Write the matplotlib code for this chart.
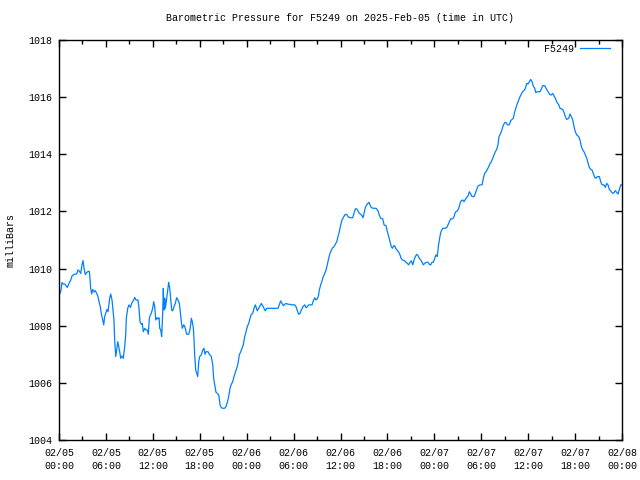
import matplotlib
matplotlib.use("Agg")
import matplotlib.pyplot as plt
import matplotlib.dates as mdates
import numpy as np
from datetime import datetime, timedelta

plt.rcParams['font.family'] = ['Liberation Mono', 'DejaVu Sans Mono']

station = "F5249"
title = "Barometric Pressure for F5249 on 2025-Feb-05 (time in UTC)"
ylabel = "milliBars"
start = datetime(2025, 2, 5, 0, 0)

# hours since 2025-02-05 00:00 UTC
hours = [
    0.13, 0.26, 0.38, 0.51, 0.73, 1.06, 1.24, 1.50, 1.66, 1.88, 2.08, 2.26, 2.43, 2.60, 2.78, 2.94,
    3.07, 3.20, 3.36, 3.54, 3.71, 3.88, 3.96, 4.05, 4.18, 4.31, 4.48, 4.64, 4.82, 4.99, 5.12, 5.28,
    5.41, 5.59, 5.72, 5.84, 5.97, 6.14, 6.27, 6.48, 6.61, 6.78, 6.91, 7.03, 7.12, 7.25, 7.38, 7.51,
    7.64, 7.76, 7.89, 8.06, 8.22, 8.40, 8.53, 8.61, 8.79, 8.95, 9.12, 9.34, 9.55, 9.68, 9.85, 10.10,
    10.23, 10.36, 10.53, 10.65, 10.78, 10.96, 11.13, 11.29, 11.42, 11.55, 11.68, 11.80, 11.98, 12.11,
    12.24, 12.37, 12.53, 12.66, 12.79, 12.88, 13.01, 13.13, 13.26, 13.34, 13.43, 13.52, 13.60, 13.72,
    13.85, 13.94, 14.03, 14.16, 14.28, 14.41, 14.54, 14.71, 14.87, 15.05, 15.22, 15.39, 15.51, 15.64,
    15.77, 15.95, 16.08, 16.20, 16.33, 16.59, 16.72, 16.84, 16.92, 17.05, 17.18, 17.26, 17.35, 17.48,
    17.61, 17.74, 17.87, 17.99, 18.20, 18.38, 18.54, 18.67, 18.80, 19.06, 19.22, 19.48, 19.66, 19.78,
    19.91, 20.08, 20.25, 20.42, 20.55,
    20.59, 20.76, 20.94, 21.19, 21.36, 21.53, 21.70, 21.87, 22.04, 22.21, 22.38, 22.55, 22.73, 22.89,
    23.06, 23.24, 23.40, 23.57, 23.75, 23.92, 24.08, 24.26, 24.43, 24.59, 24.77, 24.94, 25.11, 25.28,
    25.36, 25.54, 25.71, 25.87, 26.05, 26.22, 26.38, 26.56, 28.01, 28.17, 28.35, 28.52, 28.69, 28.87,
    29.03, 29.29, 29.54, 29.71, 30.14, 30.31, 30.48, 30.66,
    30.82, 30.99, 31.21, 31.42, 31.59, 31.76, 31.93, 32.36, 32.52, 32.70, 32.87, 33.04, 33.21, 33.29,
    33.47, 33.64, 33.80, 33.98, 34.15, 34.31, 34.49, 34.66, 34.83, 35.00, 35.17, 35.34, 35.52, 35.68,
    35.85, 36.03, 36.19, 36.36, 36.54, 36.79, 36.96, 37.18, 37.56, 37.73, 37.90, 38.07, 38.24, 38.41,
    38.59, 38.75, 38.88, 39.01, 39.17, 39.35, 39.52, 39.65, 39.78, 39.94, 40.20, 40.55, 40.80,
    40.93, 41.14, 41.40, 41.57, 41.82, 41.99, 42.17, 42.33, 42.50, 42.63, 42.81, 42.93, 43.10, 43.27,
    43.45, 43.61, 43.78, 43.96, 44.21, 44.38, 44.55, 44.72, 44.89, 45.06, 45.24, 45.40, 45.57, 45.75,
    45.91, 46.08, 46.26, 46.43, 46.59, 46.77, 46.94, 47.19, 47.36, 47.54, 47.70, 47.87, 48.05, 48.21,
    48.38, 48.51, 48.64, 48.77, 48.89, 49.07, 49.33, 49.58, 49.75, 49.92, 50.10, 50.35, 50.52, 50.68,
    50.94, 51.12, 51.25,
    51.28, 51.45, 51.63, 51.80, 51.96, 52.14, 52.31, 52.47, 52.65, 52.82, 53.08, 53.24, 53.42, 53.59,
    53.84, 54.10, 54.27, 54.44, 54.61, 54.78, 54.96, 55.12, 55.29, 55.47, 55.63, 55.80, 55.98, 56.14,
    56.27, 56.44, 56.62, 56.78, 57.00, 57.17, 57.34, 57.59, 57.77, 57.94, 58.10, 58.28, 58.45, 58.62,
    58.79, 58.96, 59.13, 59.30, 59.47, 59.64, 59.81, 59.98, 60.15, 60.33, 60.49, 60.66, 60.84, 60.97,
    61.17, 61.52,
    61.73, 61.86, 62.12, 62.28, 62.54, 62.80, 62.96, 63.14, 63.31, 63.47, 63.65, 63.91, 64.07, 64.42,
    64.59, 64.75, 64.93, 65.19, 65.35, 65.52, 65.70, 65.86, 66.03, 66.21, 66.47, 66.63, 66.80, 66.98,
    67.14, 67.31, 67.49, 67.65, 67.82, 68.00, 68.17, 68.33, 68.51, 68.68, 68.84, 69.10, 69.28, 69.45,
    69.70, 69.87, 70.05, 70.21, 70.38, 70.64, 70.82, 70.98, 71.15, 71.33, 71.49, 71.66, 71.84, 71.92,
]

pressure = [
    1009.13, 1009.25, 1009.51, 1009.46, 1009.46, 1009.34, 1009.46, 1009.60, 1009.74, 1009.79, 1009.81, 1009.81, 1009.95, 1009.91, 1009.83, 1010.13,
    1010.28, 1010.01, 1009.79, 1009.86, 1009.90, 1009.90, 1009.66, 1009.31, 1009.11, 1009.27, 1009.18, 1009.23, 1009.13, 1009.02, 1008.84, 1008.67,
    1008.43, 1008.20, 1008.03, 1008.32, 1008.43, 1008.57, 1008.49, 1008.96, 1009.11, 1008.90, 1008.55, 1008.20, 1007.50, 1006.92, 1007.15, 1007.44,
    1007.27, 1007.09, 1006.86, 1006.94, 1006.86, 1007.27, 1007.68, 1008.26, 1008.61, 1008.73, 1008.64, 1008.81, 1008.90, 1008.99, 1008.90, 1008.90,
    1008.61, 1008.14, 1008.05, 1008.08, 1007.79, 1007.91, 1007.85, 1007.85, 1007.70, 1008.26, 1008.38, 1008.43, 1008.61, 1008.84,
    1008.67, 1008.20, 1008.28, 1008.24, 1008.28, 1007.91, 1007.85, 1007.62, 1008.43, 1009.31, 1008.55, 1008.96, 1008.61, 1008.84,
    1009.13, 1009.31, 1009.52, 1009.31, 1008.96, 1008.55, 1008.52, 1008.67, 1008.78, 1008.98, 1008.90, 1008.78, 1008.49, 1008.14,
    1007.91, 1008.03, 1007.97, 1007.85, 1007.70, 1007.70, 1007.82, 1008.03, 1008.26, 1008.14, 1007.91, 1007.56, 1006.98, 1006.45,
    1006.33, 1006.22, 1006.74, 1006.92, 1006.98, 1007.15, 1007.21, 1007.00, 1007.09, 1007.09, 1007.00, 1006.92, 1006.63, 1006.16,
    1005.93, 1005.67, 1005.63, 1005.58, 1005.34,
    1005.23, 1005.13, 1005.11, 1005.11, 1005.17, 1005.32, 1005.52, 1005.81, 1005.95, 1006.04, 1006.22, 1006.37, 1006.51, 1006.68,
    1006.98, 1007.09, 1007.21, 1007.33, 1007.62, 1007.79, 1007.97, 1008.08, 1008.26, 1008.40, 1008.43, 1008.61, 1008.73, 1008.59,
    1008.52, 1008.61, 1008.70, 1008.78, 1008.70, 1008.61, 1008.52, 1008.61, 1008.61, 1008.73, 1008.87, 1008.78, 1008.70, 1008.75,
    1008.78, 1008.75, 1008.75, 1008.73, 1008.73, 1008.67, 1008.52, 1008.40,
    1008.43, 1008.55, 1008.67, 1008.73, 1008.63, 1008.67, 1008.73, 1008.73, 1008.87, 1008.98, 1008.90, 1008.94, 1009.08, 1009.25,
    1009.43, 1009.57, 1009.72, 1009.83, 1009.95, 1010.13, 1010.36, 1010.53, 1010.65, 1010.73, 1010.77, 1010.85, 1010.94, 1011.12,
    1011.29, 1011.53, 1011.70, 1011.78, 1011.88, 1011.90, 1011.82, 1011.78, 1011.78, 1011.93, 1012.09, 1012.09, 1012.02, 1011.93,
    1011.90, 1011.85, 1011.78, 1011.93, 1012.13, 1012.23, 1012.28, 1012.32, 1012.23, 1012.13, 1012.11, 1012.11, 1012.02,
    1011.90, 1011.76, 1011.74, 1011.53, 1011.50, 1011.29, 1011.12, 1010.94, 1010.77, 1010.71, 1010.80, 1010.80, 1010.69, 1010.64,
    1010.57, 1010.48, 1010.34, 1010.30, 1010.27, 1010.22, 1010.18, 1010.13, 1010.22, 1010.27, 1010.13, 1010.30, 1010.42, 1010.50,
    1010.45, 1010.36, 1010.30, 1010.22, 1010.13, 1010.18, 1010.22, 1010.22, 1010.15, 1010.13, 1010.22, 1010.22, 1010.36, 1010.48,
    1010.42, 1010.77, 1011.00, 1011.20, 1011.32, 1011.41, 1011.41, 1011.43, 1011.53, 1011.64, 1011.74, 1011.74, 1011.82, 1011.97,
    1012.02, 1012.11, 1012.23,
    1012.28, 1012.38, 1012.40, 1012.34, 1012.42, 1012.49, 1012.54, 1012.69, 1012.61, 1012.52, 1012.52, 1012.63, 1012.77, 1012.89,
    1012.93, 1012.93, 1013.16, 1013.33, 1013.39, 1013.47, 1013.57, 1013.68, 1013.74, 1013.86, 1013.98, 1014.09, 1014.17, 1014.33,
    1014.62, 1014.71, 1014.83, 1014.99, 1015.11, 1015.11, 1015.03, 1015.03, 1015.18, 1015.22, 1015.26, 1015.49, 1015.64, 1015.78,
    1015.90, 1016.02, 1016.11, 1016.19, 1016.23, 1016.31, 1016.48, 1016.46, 1016.54, 1016.62, 1016.54, 1016.39, 1016.31, 1016.16,
    1016.19, 1016.19,
    1016.31, 1016.40, 1016.40, 1016.31, 1016.19, 1016.08, 1016.08, 1016.13, 1016.04, 1015.96, 1015.84, 1015.73, 1015.61, 1015.57,
    1015.46, 1015.32, 1015.22, 1015.26, 1015.41, 1015.32, 1015.20, 1014.97, 1014.79, 1014.68, 1014.62, 1014.50, 1014.27, 1014.15,
    1014.09, 1013.98, 1013.86, 1013.71, 1013.54, 1013.47, 1013.45, 1013.33, 1013.19, 1013.16, 1013.22, 1013.22, 1013.04, 1012.93,
    1012.93, 1012.84, 1012.98, 1012.93, 1012.77, 1012.69, 1012.63, 1012.66, 1012.73, 1012.66, 1012.61, 1012.77, 1012.93, 1012.93,
]

yticks = [1004, 1006, 1008, 1010, 1012, 1014, 1016, 1018]

times = [start + timedelta(hours=h) for h in hours]

fig = plt.figure(figsize=(6.4, 4.8), dpi=100)
ax = fig.add_axes([59/640, 40/480, 563/640, 400/480])

ax.plot(times, pressure, color='#0080ff', lw=0.9, label=station)

ax.set_xlim(start, start + timedelta(hours=72))
ax.set_ylim(yticks[0], yticks[-1])
ax.set_yticks(yticks)
ax.xaxis.set_major_locator(mdates.HourLocator(byhour=[0, 6, 12, 18]))
ax.xaxis.set_minor_locator(mdates.HourLocator(byhour=[3, 9, 15, 21]))
ax.xaxis.set_major_formatter(mdates.DateFormatter('%m/%d\n%H:%M'))

ax.tick_params(axis='both', which='both', direction='in', top=True, right=True,
               labelsize=7.2, colors='black', width=1)
ax.tick_params(axis='both', which='major', length=5)
ax.tick_params(axis='both', which='minor', length=3)
ax.tick_params(axis='x', which='major', pad=6)
ax.tick_params(axis='y', which='major', pad=5)
for lab in ax.get_xticklabels():
    lab.set_linespacing(1.35)
for s in ax.spines.values():
    s.set_linewidth(1)
    s.set_color('black')

ax.set_title(title, fontsize=7.2, pad=14)
ax.set_ylabel(ylabel, fontsize=7.2)
ax.yaxis.set_label_coords(-0.078, 0.5)

ax.legend(loc='upper right', bbox_to_anchor=(0.986, 1.0), frameon=False,
          markerfirst=False, fontsize=7.2, handlelength=3.0, borderaxespad=0.0,
          borderpad=0.4, handletextpad=0.6)

fig.savefig('out.png', dpi=100)
